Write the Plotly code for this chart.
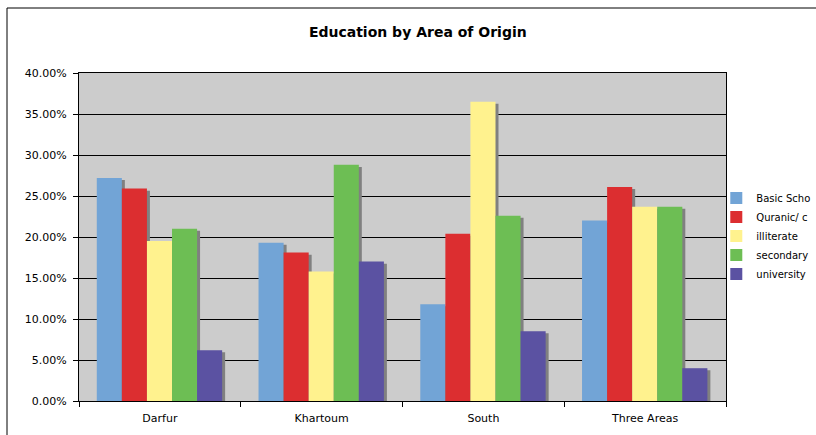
import plotly.graph_objects as go

categories = ["Darfur", "Khartoum", "South", "Three Areas"]
series_names = ["Basic Scho", "Quranic/ c", "illiterate", "secondary", "university"]
basic_school = [0.272, 0.193, 0.118, 0.220]
quranic = [0.259, 0.181, 0.204, 0.261]
illiterate = [0.195, 0.158, 0.365, 0.237]
secondary = [0.210, 0.288, 0.226, 0.237]
university = [0.062, 0.170, 0.085, 0.040]
colors = ["#72A4D6", "#DC2E30", "#FFF28E", "#6DBE54", "#5B52A2"]

all_series = [basic_school, quranic, illiterate, secondary, university]

bar_w = 0.155
start = -0.39
shadow_dx = 0.0185
shadow_dy = 0.0025

fig = go.Figure()
# shadows
for j, vals in enumerate(all_series):
    fig.add_trace(go.Bar(
        x=categories, y=[v - shadow_dy for v in vals],
        width=bar_w, offset=start + j * bar_w + shadow_dx,
        marker=dict(color="#808080", line=dict(width=0)),
        showlegend=False, hoverinfo="skip"))
# bars
for j, (name, vals) in enumerate(zip(series_names, all_series)):
    fig.add_trace(go.Bar(
        x=categories, y=vals, name=name,
        width=bar_w, offset=start + j * bar_w,
        marker=dict(color=colors[j], line=dict(width=0))))

fig.update_layout(
    barmode="overlay",
    width=816, height=435,
    margin=dict(l=79, r=90, t=73, b=34, autoexpand=False),
    paper_bgcolor="white",
    plot_bgcolor="#CCCCCC",
    font=dict(family="DejaVu Sans", size=11, color="black"),
    title=dict(text="<b>Education by Area of Origin</b>", x=0.512, xanchor="center",
               y=1 - 32 / 435, yanchor="middle",
               font=dict(family="DejaVu Sans", size=14, color="black")),
    legend=dict(x=0.985, xanchor="left", y=(401 - 236) / 328, yanchor="middle",
                bgcolor="rgba(0,0,0,0)", font=dict(size=10), tracegroupgap=0),
    xaxis=dict(type="category", tickson="boundaries", ticks="outside", ticklen=5,
               tickcolor="black", showline=True, linecolor="black", linewidth=1,
               mirror=True, showgrid=False, range=[-0.5, 3.5],
               tickfont=dict(size=11), ticklabelstandoff=7),
    yaxis=dict(range=[0, 0.4], dtick=0.05, tickformat=".2%", ticks="outside",
               ticklen=5, tickcolor="black", showline=True, linecolor="black",
               linewidth=1, mirror=True, showgrid=True, gridcolor="black",
               gridwidth=1, zeroline=False, tickfont=dict(size=11),
               ticklabelstandoff=4),
    shapes=[dict(type="rect", xref="paper", yref="paper",
                 x0=(7 - 79) / 647, x1=(830 - 79) / 647,
                 y0=(401 - 445) / 328, y1=(401 - 8) / 328,
                 line=dict(color="black", width=1), fillcolor="rgba(0,0,0,0)",
                 layer="below")],
)

fig.write_html("out.html", config={"displayModeBar": False},
               post_script="document.body.style.margin='0';document.body.style.overflow='hidden';")
